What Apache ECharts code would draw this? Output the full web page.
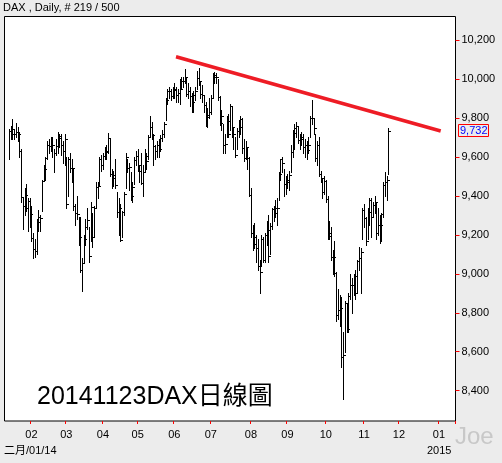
<!DOCTYPE html>
<html><head><meta charset="utf-8">
<script src="https://cdn.jsdelivr.net/npm/echarts@6/dist/echarts.min.js"></script>
<style>html,body{margin:0;padding:0;background:#ececec;}#c{width:502px;height:463px;}</style>
</head><body><div id="c"></div>
<script>
// ---- data ----
const startDate = '2014-01-13';
const endDate = '2015-01-14';
const holidays = ['2014-04-18', '2014-04-21', '2014-05-01', '2014-10-03'];
const firstBarDate = '2014-01-15';

const highs = [
 9745,9757,9794,9745,9773,9756,9730,9640,9390,9440,9460,9390,9390,
 9350,9210,9180,9280,9330,9300,9480,9560,9600,9680,9690,9700,9700,9640,9690,9730,9720,9720,9680,9720,
 9600,9600,9620,9590,9540,9360,9400,9290,9290,9080,9200,9280,9340,9240,9370,9310,9350,9470,9470,9600,9610,
 9620,9650,9660,9721,9690,9540,9530,9590,9420,9390,9360,9320,9420,9620,9590,9570,9520,9470,9600,9630,
 9640,9560,9620,9560,9640,9620,9710,9808,9780,9720,9660,9680,9690,9710,9740,9780,9900,9950,9960,9950,9960,
 9980,9960,9950,10000,10010,10010,10050,10010,9980,9960,9930,9940,9960,10040,10056,9990,9970,9910,9880,9850,9900,
 9920,10030,10036,10030,10000,9910,9840,9770,9720,9810,9820,9870,9860,9750,9700,9750,9790,9810,9800,9690,9680,9650,9600,
 9440,9250,9260,9200,9180,9070,9200,9190,9210,9270,9300,9260,9340,9350,9380,9390,9520,9590,9600,9540,9500,
 9510,9530,9660,9740,9770,9780,9760,9720,9730,9720,9690,9680,9700,9810,9891,9800,9720,9680,9700,9530,9490,9500,
 9480,9400,9270,9240,9120,9170,9010,8920,8890,8880,8700,8860,8850,8900,9000,8980,9000,9020,9070,9140,9130,9340,
 9360,9290,9340,9390,9390,9370,9400,9370,9340,9300,9310,9470,9520,9500,9748
];
const lows = [
 9590,9690,9690,9690,9700,9680,9600,9370,9230,9300,9320,9220,9240,
 9170,9080,9085,9100,9220,9220,9320,9480,9480,9590,9620,9630,9600,9520,9610,9620,9650,9610,9570,9560,
 9340,9400,9520,9470,9330,9250,9280,9150,9010,8913,9060,9150,9230,9060,9170,9140,9190,9340,9390,9450,9530,
 9540,9590,9590,9620,9500,9440,9450,9440,9290,9200,9166,9190,9300,9440,9520,9430,9380,9370,9460,9560,
 9530,9470,9460,9400,9520,9540,9590,9700,9690,9560,9590,9600,9600,9630,9680,9700,9790,9870,9900,9890,9900,
 9900,9880,9880,9870,9950,9960,9980,9910,9900,9860,9830,9830,9890,9950,9970,9900,9880,9830,9760,9755,9800,
 9820,9900,9980,9980,9890,9765,9740,9620,9620,9700,9700,9740,9700,9640,9600,9640,9700,9720,9620,9580,9590,9540,9400,
 9190,9120,9130,9060,9020,8903,9040,9060,9060,9150,9060,9100,9230,9270,9290,9250,9380,9480,9520,9400,9410,
 9440,9430,9520,9600,9640,9700,9670,9640,9660,9620,9600,9590,9620,9700,9770,9720,9580,9560,9500,9470,9390,9410,
 9370,9180,9180,9070,9000,8990,8760,8770,8730,8520,8355,8600,8700,8700,8870,8800,8890,8870,8900,9020,8900,9180,
 9240,9150,9180,9250,9190,9290,9310,9180,9200,9160,9170,9290,9400,9380,9510
];
const closes = [
 9733,9717,9742,9716,9730,9720,9631,9392,9349,9406,9336,9374,9306,
 9186,9128,9116,9265,9290,9285,9478,9540,9596,9662,9657,9659,9660,9618,9656,9708,9699,9661,9631,9692,
 9358,9589,9542,9543,9350,9311,9307,9188,9017,9056,9180,9242,9277,9093,9342,9189,9338,9448,9451,9587,9556,
 9603,9623,9628,9695,9510,9490,9506,9454,9315,9339,9173,9317,9409,9600,9545,9548,9401,9446,9584,9603,
 9556,9529,9467,9521,9607,9581,9703,9754,9710,9656,9630,9659,9639,9697,9720,9768,9892,9940,9939,9913,9943,
 9950,9920,9926,9948,9987,9990,10008,9925,9938,9912,9883,9920,9937,10005,9987,9921,9920,9867,9805,9815,9833,
 9902,10020,10009,10009,9906,9773,9808,9659,9666,9783,9719,9859,9753,9720,9612,9734,9753,9797,9644,9593,9653,9593,9407,
 9210,9154,9189,9130,9038,9009,9180,9069,9199,9225,9092,9245,9334,9314,9339,9340,9510,9588,9569,9462,9470,
 9479,9507,9626,9724,9747,9758,9686,9700,9691,9651,9659,9633,9661,9799,9798,9749,9596,9661,9510,9490,9422,9474,
 9382,9195,9209,9087,9086,9005,8788,8812,8825,8572,8582,8850,8717,8887,8940,8940,8988,8902,9068,9083,9114,9326,
 9284,9167,9315,9377,9291,9351,9369,9210,9248,9252,9306,9456,9472,9484,9732
];

const yTickMin = 8400, yTickMax = 10200, yTickStep = 200;
const plotMin = 8244.5, plotMax = 10320.6;
const trendDates = ['2014-06-03', '2015-01-02'];
const trendValues = [10114, 9733];
const titleText = '20141123DAX日線圖';
const headerText = 'DAX , Daily, # 219 / 500';
const startLabel = '二月/01/14';
const yearLabel = '2015';
const watermark = 'Joe';

// ---- build ----
function fmt(d) { return d.toISOString().slice(0, 10); }
const categories = [];
for (let d = new Date(startDate + 'T00:00:00Z'); fmt(d) <= endDate; d.setUTCDate(d.getUTCDate() + 1)) {
  const wd = d.getUTCDay();
  if (wd === 0 || wd === 6) continue;
  const s = fmt(d);
  if (holidays.includes(s)) continue;
  categories.push(s);
}
const startIdx = categories.indexOf(firstBarDate);
const barData = highs.map((h, i) => [startIdx + i, h, lows[i], closes[i]]);
function isMonthStart(idx) {
  return idx > 0 && categories[idx].slice(5, 7) !== categories[idx - 1].slice(5, 7);
}

const FONT = '"Liberation Sans", Arial, "Noto Sans CJK TC", sans-serif';
const chart = echarts.init(document.getElementById('c'), null, {renderer: 'canvas'});
const option = {
  animation: false,
  backgroundColor: '#ececec',
  textStyle: {fontFamily: FONT},
  grid: [
    {left: 4.5, top: 16.5, width: 451, height: 404.5, show: true, backgroundColor: '#fff', borderColor: '#000', borderWidth: 1, containLabel: false},
    {left: 4.5, top: 40, width: 451, height: 350.7, show: false, containLabel: false}
  ],
  xAxis: [
    {type: 'category', gridIndex: 0, data: categories, boundaryGap: true,
     axisLine: {show: false},
     axisTick: {show: true, length: 3, interval: (i) => isMonthStart(i), lineStyle: {color: '#ff0000', width: 1}},
     axisLabel: {interval: (i) => isMonthStart(i), formatter: (v) => v.slice(5, 7), color: '#000', fontSize: 11, margin: 8, fontFamily: FONT},
     splitLine: {show: false}},
    {type: 'category', gridIndex: 1, show: false, data: ['a'], axisLine: {show: false}, axisTick: {show: false}, axisLabel: {show: false}}
  ],
  yAxis: [
    {type: 'value', gridIndex: 0, min: plotMin, max: plotMax, show: false, axisLine: {show: false, onZero: false}, axisTick: {show: false}, axisLabel: {show: false}, splitLine: {show: false}},
    {type: 'value', gridIndex: 1, position: 'right', min: yTickMin, max: yTickMax, interval: yTickStep,
     axisLine: {show: false, onZero: false},
     axisTick: {show: true, length: 4, lineStyle: {color: '#ff0000', width: 1}},
     axisLabel: {color: '#000', fontSize: 11, margin: 6, fontFamily: FONT, formatter: (v) => v.toLocaleString('en-US')},
     splitLine: {show: false}}
  ],
  series: [
    {
      type: 'custom', xAxisIndex: 0, yAxisIndex: 0, clip: false,
      data: barData, encode: {x: 0, y: [1, 2, 3]},
      renderItem: function (params, api) {
        const idx = api.value(0);
        const pH = api.coord([idx, api.value(1)]);
        const pL = api.coord([idx, api.value(2)]);
        const pC = api.coord([idx, api.value(3)]);
        const x = Math.round(pH[0]) + 0.5;
        const yc = Math.round(pC[1]) + 0.5;
        return {type: 'group', children: [
          {type: 'line', shape: {x1: x, y1: Math.round(pH[1]), x2: x, y2: Math.round(pL[1]) + 1}, style: {stroke: '#000', lineWidth: 1}},
          {type: 'line', shape: {x1: x, y1: yc, x2: x + 2.5, y2: yc}, style: {stroke: '#000', lineWidth: 1}}
        ]};
      }
    },
    {
      type: 'line', xAxisIndex: 0, yAxisIndex: 0, symbol: 'none', silent: true,
      data: [[trendDates[0], trendValues[0]], [trendDates[1], trendValues[1]]],
      lineStyle: {color: '#ee1c25', width: 3.5}
    }
  ]
};
chart.setOption(option);

const lastClose = closes[closes.length - 1];
const yLast = chart.convertToPixel({yAxisIndex: 0}, lastClose);
chart.setOption({
  graphic: [
    {type: 'text', left: 3, top: 2, style: {text: headerText, fill: '#000', font: '11px ' + FONT}},
    {type: 'text', left: 37, top: 385, style: {text: titleText, fill: '#000', font: '25px ' + FONT}},
    {type: 'text', left: 4, top: 445, style: {text: startLabel, fill: '#000', font: '11px ' + FONT}},
    {type: 'text', left: 427, top: 445, style: {text: yearLabel, fill: '#000', font: '11px ' + FONT}},
    {type: 'text', left: 455, top: 425, style: {text: watermark, fill: '#c8c8c8', font: '24px ' + FONT}},
    {type: 'rect', shape: {x: 458.5, y: Math.round(yLast) - 6.5, width: 30, height: 12}, style: {fill: 'none', stroke: '#ff0000', lineWidth: 1}},
    {type: 'text', x: 460, y: Math.round(yLast), style: {text: lastClose.toLocaleString('en-US'), fill: '#0000ff', font: '11px ' + FONT, textVerticalAlign: 'middle'}}
  ]
});
</script></body></html>
